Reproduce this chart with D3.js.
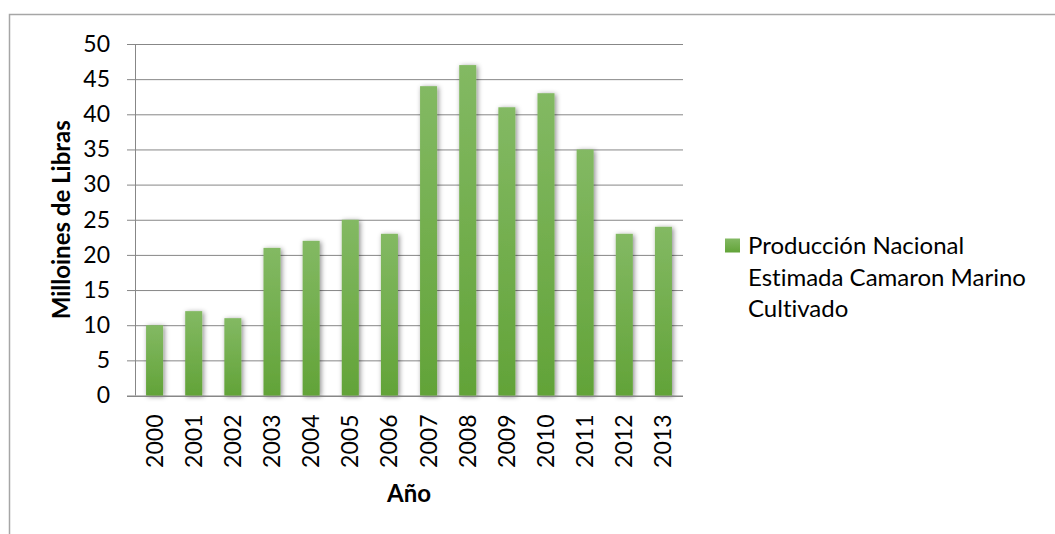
<!DOCTYPE html>
<html>
<head>
<meta charset="utf-8">
<script src="https://cdn.jsdelivr.net/npm/d3@7/dist/d3.min.js"></script>
<style>
  html, body { margin: 0; padding: 0; background: #fff; }
  svg { display: block; }
  text { font-family: Lato, "Open Sans", sans-serif; fill: #000; font-variant-ligatures: none; }
</style>
</head>
<body>
<svg id="chart" width="1055" height="534"></svg>
<script>
// Shrimp farming production, millions of pounds per year
const years = ["2000","2001","2002","2003","2004","2005","2006","2007","2008","2009","2010","2011","2012","2013"];
const production = [10, 12, 11, 21, 22, 25, 23, 44, 47, 41, 43, 35, 23, 24];
const yTicks = [0, 5, 10, 15, 20, 25, 30, 35, 40, 45, 50];
const seriesName = ["Producción Nacional", "Estimada Camaron Marino", "Cultivado"];
const yTitle = "Milloines de Libras";
const xTitle = "Año";

const svg = d3.select("#chart");
const plotLeft = 135, plotRight = 683, plotTop = 44, plotBottom = 395.5;
const gridStart = 127;

const defs = svg.append("defs");
const grad = defs.append("linearGradient")
  .attr("id", "barFill").attr("x1", 0).attr("y1", 0).attr("x2", 0).attr("y2", 1);
grad.append("stop").attr("offset", "0%").attr("stop-color", "#83b963");
grad.append("stop").attr("offset", "100%").attr("stop-color", "#62a338");

const shadow = defs.append("filter").attr("id", "barShadow")
  .attr("x", "-60%").attr("y", "-10%").attr("width", "220%").attr("height", "125%");
shadow.append("feDropShadow")
  .attr("dx", 1.5).attr("dy", 1).attr("stdDeviation", 2.4)
  .attr("flood-color", "#000").attr("flood-opacity", 0.45);

// chart frame
svg.append("rect")
  .attr("x", 9.5).attr("y", 14.5).attr("width", 1200).attr("height", 700)
  .attr("fill", "none").attr("stroke", "#a6a6a6").attr("stroke-width", 1.5);

const x = d3.scaleBand().domain(years).range([plotLeft, plotRight]).paddingInner(0.565).paddingOuter(0.2825);
const y = d3.scaleLinear().domain([0, 50]).range([plotBottom, plotTop]);

// horizontal gridlines with tick labels
const gy = svg.append("g").attr("transform", `translate(${plotRight},0)`)
  .call(d3.axisLeft(y).tickValues(yTicks).tickSize(plotRight - gridStart).tickPadding(17));
gy.select(".domain").remove();
gy.selectAll(".tick line").attr("stroke", "#878787").attr("stroke-width", 1);
gy.selectAll(".tick text")
  .attr("font-size", 23).attr("font-family", "Lato, sans-serif").attr("fill", "#000");

// vertical axis line
svg.append("line")
  .attr("x1", plotLeft + 0.5).attr("x2", plotLeft + 0.5).attr("y1", plotTop).attr("y2", plotBottom)
  .attr("stroke", "#878787");

// bars
svg.append("g").selectAll("rect")
  .data(production)
  .join("rect")
  .attr("x", (d, i) => x(years[i]))
  .attr("width", x.bandwidth())
  .attr("y", d => y(d))
  .attr("height", d => y(0) - y(d))
  .attr("fill", "url(#barFill)")
  .attr("filter", "url(#barShadow)");

// baseline over bar shadows
svg.append("line")
  .attr("x1", gridStart).attr("x2", plotRight)
  .attr("y1", Math.round(plotBottom) + 0.5).attr("y2", Math.round(plotBottom) + 0.5)
  .attr("stroke", "#878787");

// year labels, rotated
const gx = svg.append("g").attr("transform", `translate(0,${plotBottom})`)
  .call(d3.axisBottom(x).tickSize(0).tickPadding(0));
gx.select(".domain").remove();
gx.selectAll(".tick text")
  .attr("font-size", 23).attr("font-family", "Lato, sans-serif").attr("fill", "#000")
  .attr("transform", "rotate(-90)")
  .attr("x", -19).attr("y", 0).attr("dy", "0.35em")
  .attr("text-anchor", "end");

// axis titles
svg.append("text")
  .attr("transform", `translate(70,${(plotTop + plotBottom) / 2}) rotate(-90)`)
  .attr("text-anchor", "middle")
  .attr("font-size", 24).attr("font-weight", "bold")
  .text(yTitle);

svg.append("text")
  .attr("x", 409).attr("y", 502)
  .attr("text-anchor", "middle")
  .attr("font-size", 24).attr("font-weight", "bold")
  .text(xTitle);

// legend
const legend = svg.append("g");
legend.append("rect")
  .attr("x", 725).attr("y", 238.5).attr("width", 15).attr("height", 14)
  .attr("fill", "url(#barFill)");
legend.selectAll("text.series")
  .data(seriesName)
  .join("text")
  .attr("class", "series")
  .attr("x", 748).attr("y", (d, i) => 254 + i * 31.5)
  .attr("font-size", 24)
  .text(d => d);
</script>
</body>
</html>
